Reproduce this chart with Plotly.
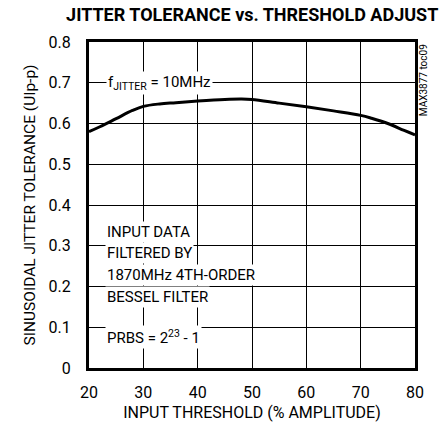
import plotly.graph_objects as go

threshold = [20, 22, 25, 28, 30, 33, 36, 40, 45, 48, 50, 55, 60, 65, 70, 72, 75, 78, 80]
tolerance = [0.580, 0.592, 0.612, 0.632, 0.642, 0.648, 0.651, 0.655, 0.659, 0.660, 0.659,
             0.650, 0.641, 0.631, 0.620, 0.613, 0.600, 0.583, 0.572]

x_ticks = [20, 30, 40, 50, 60, 70, 80]
y_ticks = [0, 0.1, 0.2, 0.3, 0.4, 0.5, 0.6, 0.7, 0.8]
y_ticktext = ["0", "0.1", "0.2", "0.3", "0.4", "0.5", "0.6", "0.7", "0.8"]

FONT = "Roboto, Liberation Sans Narrow, sans-serif"

fig = go.Figure()
fig.add_trace(go.Scatter(x=threshold, y=tolerance, mode="lines",
                         line=dict(color="black", width=3, shape="spline"),
                         showlegend=False, hoverinfo="skip"))

axis_common = dict(showgrid=True, gridcolor="black", gridwidth=1,
                   showline=True, linecolor="black", linewidth=3, mirror=True,
                   ticks="", zeroline=False, automargin=False,
                   tickfont=dict(family=FONT, size=16, color="black"))

fig.update_xaxes(range=[20, 80], tickvals=x_ticks, ticklabelstandoff=8,
                 title=dict(text="INPUT THRESHOLD (% AMPLITUDE)",
                            font=dict(family=FONT, size=16, color="black"), standoff=6),
                 **axis_common)
fig.update_yaxes(range=[0, 0.8], tickvals=y_ticks, ticktext=y_ticktext, ticklabelstandoff=12,
                 title=dict(text="SINUSOIDAL JITTER TOLERANCE (UIp-p)",
                            font=dict(family=FONT, size=15.5, color="black"), standoff=10),
                 **axis_common)

ann_font = dict(family=FONT, size=15, color="black")
notes = [
    ("f<sub>JITTER</sub> = 10MHz", 23.2, 0.7),
    ("INPUT DATA", 23.0, 0.334),
    ("FILTERED BY", 23.0, 0.282),
    ("1870MHz 4TH-ORDER", 23.0, 0.228),
    ("BESSEL FILTER", 23.0, 0.175),
    ("PRBS = 2<sup>23</sup> - 1", 23.0, 0.077),
]
for text, x, y in notes:
    fig.add_annotation(text=text, x=x, y=y, xref="x", yref="y", xanchor="left",
                       yanchor="middle", showarrow=False, bgcolor="white",
                       font=ann_font, borderpad=1)

fig.add_annotation(text="MAX3877 toc09", x=1.025, y=1.0, xref="paper", yref="paper",
                   xanchor="center", yanchor="top", textangle=-90, showarrow=False,
                   font=dict(family=FONT, size=10, color="black"))

fig.update_layout(
    width=444, height=427,
    margin=dict(l=89, r=29, t=42, b=59),
    paper_bgcolor="white", plot_bgcolor="white",
    title=dict(text="<b>JITTER TOLERANCE vs. THRESHOLD ADJUST</b>",
               x=0.568, xanchor="center", y=0.965, yanchor="middle",
               font=dict(family=FONT, size=18, color="black")),
)

fig.write_html("out.html", config={"displayModeBar": False},
               post_script="document.body.style.margin='0';")
